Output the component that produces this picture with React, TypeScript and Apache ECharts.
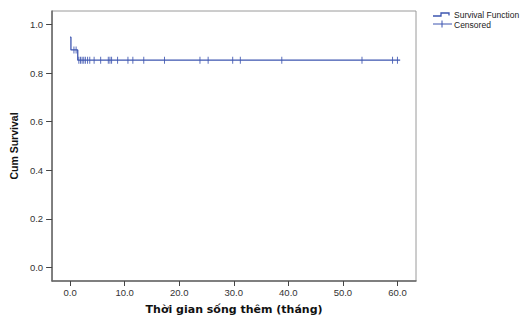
import React, { useEffect, useRef } from "react";
import * as echarts from "echarts";

// Kaplan-Meier step points [time, cumulative survival]
const stepTimes = [0.0, 0.15, 1.4, 60.5];
const stepSurvival = [0.947, 0.895, 0.853, 0.853];

// Censored observations
const censoredTimes = [
  0.7, 1.1, 1.6, 1.9, 2.2, 2.5, 2.8, 3.2, 3.6, 4.4, 5.6, 7.0, 7.3, 7.6, 8.7,
  10.6, 11.5, 13.5, 17.3, 23.8, 25.3, 29.8, 31.2, 38.8, 53.5, 59.1, 60.0,
];
const censoredSurvival = [
  0.895, 0.895, 0.853, 0.853, 0.853, 0.853, 0.853, 0.853, 0.853, 0.853, 0.853,
  0.853, 0.853, 0.853, 0.853, 0.853, 0.853, 0.853, 0.853, 0.853, 0.853, 0.853,
  0.853, 0.853, 0.853, 0.853, 0.853,
];

const xTicks = [0, 10, 20, 30, 40, 50, 60];
const yTicks = [0, 0.2, 0.4, 0.6, 0.8, 1.0];

const LINE = "#3d55b0";
const FONT = "Liberation Sans, Arial, sans-serif";
const WIDE = "DejaVu Sans, Verdana, sans-serif";

export default function App() {
  const ref = useRef<HTMLDivElement>(null);
  useEffect(() => {
    if (!ref.current) return;
    const chart = echarts.init(ref.current, null, { renderer: "svg" });
    chart.setOption({
      animation: false,
      backgroundColor: "#ffffff",
      grid: {
        left: 49,
        top: 11,
        right: 114,
        bottom: 29,
        show: true,
        borderColor: "#9a9a9a",
        borderWidth: 1,
      },
      xAxis: {
        type: "value",
        min: -3.3,
        max: 63.4,
        name: "Thời gian sống thêm (tháng)",
        nameLocation: "middle",
        nameGap: 23,
        nameTextStyle: { fontFamily: WIDE, fontWeight: "bold", fontSize: 11, color: "#111" },
        axisLine: { show: true, onZero: false, lineStyle: { color: "#666", width: 1.5 } },
        axisTick: {
          show: true,
          customValues: xTicks,
          length: 5,
          inside: false,
          lineStyle: { color: "#444" },
        },
        axisLabel: {
          customValues: xTicks,
          formatter: (v: number) => v.toFixed(1),
          fontFamily: FONT,
          fontSize: 9.5,
          color: "#333",
          margin: 6,
        },
        splitLine: { show: false },
      },
      yAxis: {
        type: "value",
        min: -0.055,
        max: 1.055,
        name: "Cum Survival",
        nameLocation: "middle",
        nameGap: 31,
        nameTextStyle: { fontFamily: FONT, fontWeight: "bold", fontSize: 10.5, color: "#111" },
        axisLine: { show: true, onZero: false, lineStyle: { color: "#666", width: 1.5 } },
        axisTick: {
          show: true,
          customValues: yTicks,
          length: 6,
          lineStyle: { color: "#444" },
        },
        axisLabel: {
          customValues: yTicks,
          formatter: (v: number) => v.toFixed(1),
          fontFamily: FONT,
          fontSize: 9.5,
          color: "#333",
          margin: 9,
        },
        splitLine: { show: false },
      },
      series: [
        {
          type: "line",
          name: "Survival Function",
          step: "end",
          data: stepTimes.map((t, i) => [t, stepSurvival[i]]),
          showSymbol: false,
          symbol: "none",
          lineStyle: { color: LINE, width: 1.3 },
        },
        {
          type: "scatter",
          name: "Censored",
          data: censoredTimes.map((t, i) => [t, censoredSurvival[i]]),
          symbol: "rect",
          symbolSize: [1, 7],
          itemStyle: { color: LINE, opacity: 0.85 },
        },
      ],
      graphic: [
        {
          type: "polyline",
          shape: { points: [[433, 16], [441, 16], [441, 13], [449, 13], [449, 15.5]] },
          style: { stroke: LINE, lineWidth: 1.3, fill: null },
        },
        {
          type: "line",
          shape: { x1: 433, y1: 24, x2: 452, y2: 24 },
          style: { stroke: LINE, lineWidth: 1 },
        },
        {
          type: "line",
          shape: { x1: 442, y1: 20.5, x2: 442, y2: 27.5 },
          style: { stroke: LINE, lineWidth: 1 },
        },
        {
          type: "text",
          x: 454,
          y: 14.5,
          style: {
            text: "Survival Function",
            fontFamily: FONT,
            fontSize: 8.5,
            fill: "#222",
            verticalAlign: "middle",
          },
        },
        {
          type: "text",
          x: 454,
          y: 24.5,
          style: {
            text: "Censored",
            fontFamily: FONT,
            fontSize: 8.5,
            fill: "#222",
            verticalAlign: "middle",
          },
        },
      ],
    });
    return () => chart.dispose();
  }, []);
  return <div ref={ref} style={{ width: 530, height: 320, position: "absolute", left: 0, top: 0 }} />;
}
